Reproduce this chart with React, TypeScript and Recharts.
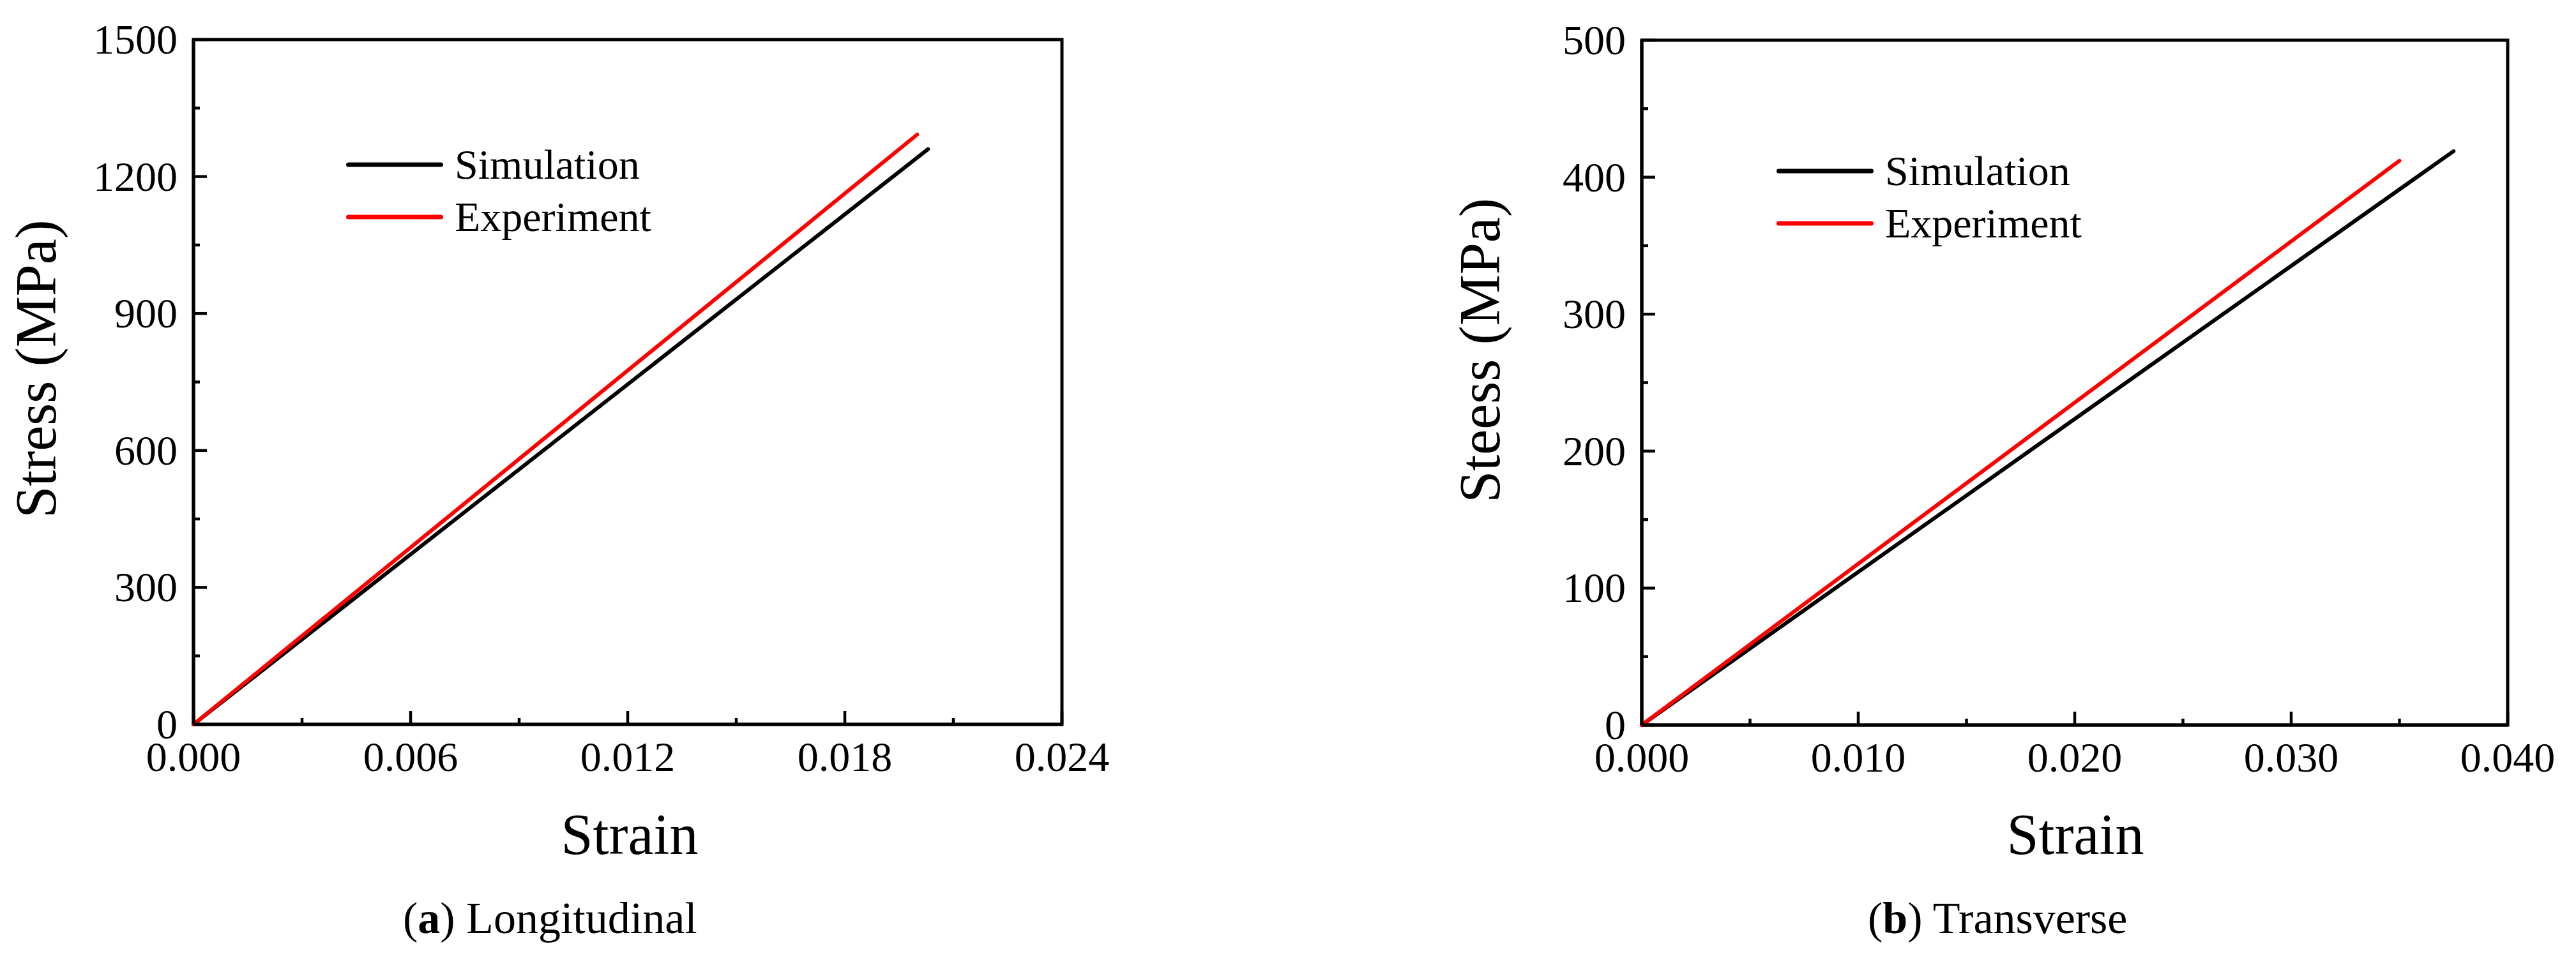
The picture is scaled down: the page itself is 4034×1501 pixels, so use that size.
import { LineChart, Line, XAxis, YAxis, ReferenceArea, Legend } from 'recharts'

const FONT = '"Liberation Serif", "Times New Roman", serif'

// (a) Longitudinal: strain / stress (MPa)
const longSimStrain = [0, 0.0203]
const longSimStress = [0, 1260]
const longExpStrain = [0, 0.02]
const longExpStress = [0, 1292]
const longStrainTicks = [0, 0.003, 0.006, 0.009, 0.012, 0.015, 0.018, 0.021, 0.024]
const longStressTicks = [0, 150, 300, 450, 600, 750, 900, 1050, 1200, 1350, 1500]

// (b) Transverse
const transSimStrain = [0, 0.0375]
const transSimStress = [0, 419]
const transExpStrain = [0, 0.035]
const transExpStress = [0, 412]
const transStrainTicks = [0, 0.005, 0.01, 0.015, 0.02, 0.025, 0.03, 0.035, 0.04]
const transStressTicks = [0, 50, 100, 150, 200, 250, 300, 350, 400, 450, 500]

const seriesNames = ['Simulation', 'Experiment']
const seriesColors = ['#000000', '#ff0000']

const toPoints = (xs: number[], ys: number[]) => xs.map((x, i) => ({ strain: x, stress: ys[i] }))

// ticks point inward, every second one is a labelled major tick
const XTick = (props: any) => {
  const { x, y, payload, index } = props
  const major = index % 2 === 0
  return (
    <g>
      <line x1={x} x2={x} y1={y} y2={y - (major ? 21 : 10)} stroke="#000" strokeWidth={4.5} />
      {major && (
        <text x={x} y={y + 73} textAnchor="middle" fontSize={66} fontFamily={FONT} fill="#000">
          {Number(payload.value).toFixed(3)}
        </text>
      )}
    </g>
  )
}

const YTick = (props: any) => {
  const { x, y, payload, index } = props
  const major = index % 2 === 0
  return (
    <g>
      <line x1={x} x2={x + (major ? 21 : 10)} y1={y} y2={y} stroke="#000" strokeWidth={4.5} />
      {major && (
        <text x={x - 25} y={y + 22} textAnchor="end" fontSize={66} fontFamily={FONT} fill="#000">
          {payload.value}
        </text>
      )}
    </g>
  )
}

// keep the legend in series order (Simulation first)
const renderLegend = (props: any) => {
  const items = [...(props.payload ?? [])].sort(
    (a: any, b: any) => seriesNames.indexOf(a.value) - seriesNames.indexOf(b.value)
  )
  return (
    <div>
      {items.map((p: any) => (
        <div key={p.value} style={{ display: 'flex', alignItems: 'center', height: 82 }}>
          <svg width={152} height={10}>
            <line x1={3.5} x2={148.5} y1={5} y2={5} stroke={p.color} strokeWidth={7} strokeLinecap="round" />
          </svg>
          <span style={{ marginLeft: 18, fontSize: 66, lineHeight: '82px', fontFamily: FONT, color: '#000' }}>
            {p.value}
          </span>
        </div>
      ))}
    </div>
  )
}

interface PanelProps {
  left: number
  width: number
  height: number
  plotLeft: number
  plotRight: number
  plotTop: number
  plotBottom: number
  xMax: number
  yMax: number
  xTicks: number[]
  yTicks: number[]
  sim: { strain: number; stress: number }[]
  exp: { strain: number; stress: number }[]
  legendLeft: number
  legendTop: number
}

function Panel(p: PanelProps) {
  return (
    <div style={{ position: 'absolute', left: p.left, top: 0, width: p.width, height: p.height }}>
      <LineChart
        width={p.width}
        height={p.height}
        margin={{ top: p.plotTop, right: p.width - p.plotRight, bottom: 0, left: 0 }}
      >
        <XAxis
          type="number"
          dataKey="strain"
          domain={[0, p.xMax]}
          ticks={p.xTicks}
          interval={0}
          tick={<XTick />}
          tickLine={false}
          tickSize={0}
          tickMargin={0}
          height={p.height - p.plotBottom}
          axisLine={{ stroke: '#000', strokeWidth: 5 }}
        />
        <YAxis
          type="number"
          dataKey="stress"
          domain={[0, p.yMax]}
          ticks={p.yTicks}
          interval={0}
          tick={<YTick />}
          tickLine={false}
          tickSize={0}
          tickMargin={0}
          width={p.plotLeft}
          axisLine={{ stroke: '#000', strokeWidth: 5 }}
        />
        {/* frame on top and right */}
        <ReferenceArea x1={0} x2={p.xMax} y1={0} y2={p.yMax} fill="none" stroke="#000" strokeWidth={5} />
        <Legend
          layout="vertical"
          align="center"
          verticalAlign="middle"
          wrapperStyle={{ left: p.legendLeft, top: p.legendTop, width: 'auto' }}
          content={renderLegend}
        />
        <Line
          data={p.sim}
          dataKey="stress"
          name={seriesNames[0]}
          stroke={seriesColors[0]}
          strokeWidth={6}
          strokeLinecap="round"
          dot={false}
          activeDot={false}
          isAnimationActive={false}
        />
        <Line
          data={p.exp}
          dataKey="stress"
          name={seriesNames[1]}
          stroke={seriesColors[1]}
          strokeWidth={6}
          strokeLinecap="round"
          dot={false}
          activeDot={false}
          isAnimationActive={false}
        />
      </LineChart>
    </div>
  )
}

const titleStyle = { position: 'absolute' as const, whiteSpace: 'nowrap' as const, fontFamily: FONT, color: '#000' }

export default function App() {
  return (
    <div style={{ position: 'absolute', left: 0, top: 0, width: 4034, height: 1501, background: '#fff', overflow: 'hidden' }}>
      <Panel
        left={0}
        width={1850}
        height={1300}
        plotLeft={303}
        plotRight={1663}
        plotTop={62}
        plotBottom={1135}
        xMax={0.024}
        yMax={1500}
        xTicks={longStrainTicks}
        yTicks={longStressTicks}
        sim={toPoints(longSimStrain, longSimStress)}
        exp={toPoints(longExpStrain, longExpStress)}
        legendLeft={542}
        legendTop={217}
      />
      <Panel
        left={2200}
        width={1834}
        height={1300}
        plotLeft={371}
        plotRight={1727}
        plotTop={63}
        plotBottom={1136}
        xMax={0.04}
        yMax={500}
        xTicks={transStrainTicks}
        yTicks={transStressTicks}
        sim={toPoints(transSimStrain, transSimStress)}
        exp={toPoints(transExpStrain, transExpStress)}
        legendLeft={582}
        legendTop={227}
      />

      {/* axis titles */}
      <div style={{ ...titleStyle, left: 57 - 300, top: 578 - 45, width: 600, height: 90, fontSize: 90, lineHeight: '90px', textAlign: 'center', transform: 'rotate(-90deg)' }}>
        Stress (MPa)
      </div>
      <div style={{ ...titleStyle, left: 2318 - 300, top: 549 - 45, width: 600, height: 90, fontSize: 90, lineHeight: '90px', textAlign: 'center', transform: 'rotate(-90deg)' }}>
        Steess (MPa)
      </div>
      <div style={{ ...titleStyle, left: 986 - 300, top: 1263, width: 600, fontSize: 90, lineHeight: '90px', textAlign: 'center' }}>
        Strain
      </div>
      <div style={{ ...titleStyle, left: 3250 - 300, top: 1263, width: 600, fontSize: 90, lineHeight: '90px', textAlign: 'center' }}>
        Strain
      </div>

      {/* sub-figure captions */}
      <div style={{ ...titleStyle, left: 631, top: 1404, fontSize: 70, lineHeight: '70px' }}>
        (<b>a</b>) Longitudinal
      </div>
      <div style={{ ...titleStyle, left: 2925, top: 1404, fontSize: 70, lineHeight: '70px' }}>
        (<b>b</b>) Transverse
      </div>
    </div>
  )
}
